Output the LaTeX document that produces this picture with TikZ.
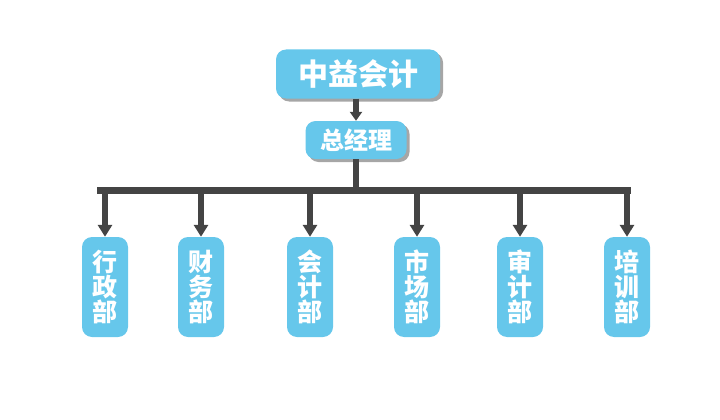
\documentclass[tikz,border=0pt]{standalone}
\usepackage{fontspec}
\newfontfamily\cjk{Noto Sans CJK SC}
\usetikzlibrary{arrows.meta,shadows}
\definecolor{boxblue}{RGB}{102,199,235}
\definecolor{arrowgray}{RGB}{68,68,68}
\tikzset{
  topbox/.style={fill=boxblue, rounded corners=10pt, text=white, font=\cjk\bfseries\fontsize{30}{32}\selectfont,
    drop shadow={shadow xshift=3pt, shadow yshift=-3pt, fill=gray, opacity=0.7}, inner sep=0pt},
  deptbox/.style={fill=boxblue, rounded corners=10pt, text=white, minimum width=46pt, minimum height=100pt,
    font=\cjk\bfseries\fontsize{25}{25}\selectfont, align=center, inner sep=0pt},
  conn/.style={draw=arrowgray, line width=5.5pt},
  arr/.style={conn, -{Triangle[width=14pt,length=12pt]}},
  smallarr/.style={conn, -{Triangle[width=12pt,length=9pt]}}
}
\begin{document}
\begin{tikzpicture}[x=1pt,y=-1pt]
\useasboundingbox (0,0) rectangle (720,420);
\node[topbox, minimum width=164pt, minimum height=49pt] (top) at (358,74) {中益会计};
\node[topbox, minimum width=101pt, minimum height=38pt, font=\cjk\bfseries\fontsize{24}{26}\selectfont] (gm) at (356,140) {总经理};
\coordinate (bl) at (97,190);
\coordinate (br) at (631,190);
\coordinate (bm) at (356,190);
\draw[conn, line width=7pt] (bl) -- (br);
\draw[smallarr] (top.south -| gm) -- (gm.north);
\draw[conn] (gm.south) -- (bm);
\foreach \name/\x/\txt in {d1/105/行\\政\\部, d2/201/财\\务\\部, d3/310/会\\计\\部, d4/417/市\\场\\部, d5/520/审\\计\\部, d6/627/培\\训\\部}{
  \node[deptbox] (\name) at (\x,287) {\txt};
  \coordinate (\name t) at (\x,190);
  \draw[arr] (\name t) -- (\name.north);
}
\end{tikzpicture}
\end{document}
